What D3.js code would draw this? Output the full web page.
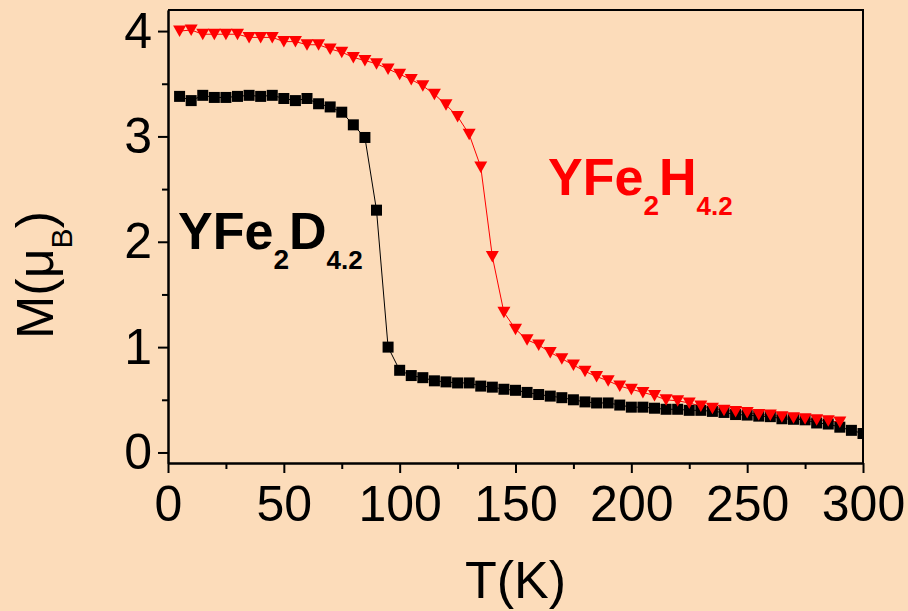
<!DOCTYPE html>
<html>
<head>
<meta charset="utf-8">
<script src="https://cdn.jsdelivr.net/npm/d3@7"></script>
<style>
  html, body { margin: 0; padding: 0; background: #fcdcba; }
  svg { display: block; font-family: "Liberation Sans", Arial, sans-serif; }
  .axis path, .axis line { stroke: #000; stroke-width: 2; }
  .axis text { font-size: 50px; fill: #000; }
</style>
</head>
<body>
<div id="chart"></div>
<script>
/* M(T) curves for YFe2D4.2 and YFe2H4.2 */

// YFe2D4.2 (black squares)
const tempD = [5, 10, 15, 20, 25, 30, 35, 40, 45, 50, 55, 60, 65, 70, 75, 80, 85, 90, 95, 100,
  105, 110, 115, 120, 125, 130, 135, 140, 145, 150, 155, 160, 165, 170, 175, 180, 185, 190, 195, 200,
  205, 210, 215, 220, 225, 230, 235, 240, 245, 250, 255, 260, 265, 270, 275, 280, 285, 290, 295, 300];
const magD = [3.38, 3.34, 3.39, 3.37, 3.37, 3.38, 3.39, 3.38, 3.39, 3.36, 3.34, 3.36, 3.31, 3.28, 3.23, 3.11, 2.99, 2.30, 1.00, 0.78,
  0.73, 0.71, 0.68, 0.67, 0.66, 0.66, 0.63, 0.62, 0.60, 0.59, 0.57, 0.55, 0.535, 0.52, 0.50, 0.48, 0.47, 0.47, 0.45, 0.43,
  0.43, 0.42, 0.41, 0.41, 0.40, 0.40, 0.39, 0.38, 0.36, 0.355, 0.345, 0.34, 0.32, 0.315, 0.31, 0.28, 0.27, 0.24, 0.21, 0.18];

// YFe2H4.2 (red triangles)
const tempH = [5, 10, 15, 20, 25, 30, 35, 40, 45, 50, 55, 60, 65, 70, 75, 80, 85, 90, 95, 100,
  105, 110, 115, 120, 125, 130, 135, 140, 145, 150, 155, 160, 165, 170, 175, 180, 185, 190, 195, 200,
  205, 210, 215, 220, 225, 230, 235, 240, 245, 250, 255, 260, 265, 270, 275, 280, 285, 290];
const magH = [4.00, 4.01, 3.97, 3.97, 3.97, 3.97, 3.94, 3.94, 3.94, 3.90, 3.90, 3.87, 3.87, 3.83, 3.80, 3.75, 3.72, 3.69, 3.64, 3.59,
  3.54, 3.48, 3.40, 3.30, 3.19, 3.02, 2.71, 1.86, 1.33, 1.17, 1.07, 1.02, 0.95, 0.89, 0.83, 0.77, 0.72, 0.68, 0.63, 0.60,
  0.57, 0.54, 0.50, 0.49, 0.47, 0.44, 0.42, 0.40, 0.39, 0.38, 0.36, 0.355, 0.34, 0.33, 0.32, 0.31, 0.30, 0.29];

const xTicks = [0, 50, 100, 150, 200, 250, 300];
const xMinor = [25, 75, 125, 175, 225, 275];
const yTicks = [0, 1, 2, 3, 4];
const yMinor = [0.5, 1.5, 2.5, 3.5];

let width = 908,
    height = 611,
    margin = ({ top: 10, right: 45, bottom: 148, left: 168 });

const svg = d3.select("#chart")
  .append("svg")
  .attr("width", width)
  .attr("height", height);

svg.append("rect")
  .attr("width", width)
  .attr("height", height)
  .attr("fill", "#fcdcba");

let x = d3.scaleLinear()
  .domain([0, 300])
  .range([margin.left, width - margin.right]);

let y = d3.scaleLinear()
  .domain([-0.1, 4.2])
  .range([height - margin.bottom, margin.top]);

svg.append("clipPath")
  .attr("id", "plot-clip")
  .append("rect")
  .attr("x", margin.left)
  .attr("y", margin.top)
  .attr("width", width - margin.left - margin.right)
  .attr("height", height - margin.top - margin.bottom);

// frame (top and right sides)
svg.append("path")
  .attr("d", `M${margin.left},${margin.top}H${width - margin.right}V${height - margin.bottom}`)
  .attr("fill", "none")
  .attr("stroke", "#000")
  .attr("stroke-width", 2);

// minor ticks first, major axes on top
svg.append("g")
  .attr("class", "axis")
  .attr("transform", `translate(0,${height - margin.bottom})`)
  .call(d3.axisBottom(x).tickValues(xMinor).tickSize(6).tickFormat("").tickSizeOuter(0));

svg.append("g")
  .attr("class", "axis")
  .attr("transform", `translate(${margin.left},0)`)
  .call(d3.axisLeft(y).tickValues(yMinor).tickSize(6).tickFormat("").tickSizeOuter(0));

svg.append("g")
  .attr("class", "axis")
  .attr("transform", `translate(0,${height - margin.bottom})`)
  .call(d3.axisBottom(x).tickValues(xTicks).tickSize(10).tickPadding(12).tickSizeOuter(0));

svg.append("g")
  .attr("class", "axis")
  .attr("transform", `translate(${margin.left},0)`)
  .call(d3.axisLeft(y).tickValues(yTicks).tickFormat(d3.format("d")).tickSize(10).tickPadding(6).tickSizeOuter(0));

let line = d3.line()
  .x(d => x(d[0]))
  .y(d => y(d[1]));

let dataD = tempD.map((t, i) => [t, magD[i]]);
let dataH = tempH.map((t, i) => [t, magH[i]]);

let plot = svg.append("g").attr("clip-path", "url(#plot-clip)");

plot.append("path")
  .datum(dataD)
  .attr("fill", "none")
  .attr("stroke", "#000")
  .attr("stroke-width", 1)
  .attr("d", line);

plot.append("path")
  .datum(dataH)
  .attr("fill", "none")
  .attr("stroke", "#ff0000")
  .attr("stroke-width", 1)
  .attr("d", line);

plot.selectAll(".sq")
  .data(dataD)
  .join("rect")
  .attr("class", "sq")
  .attr("x", d => x(d[0]) - 5.5)
  .attr("y", d => y(d[1]) - 5.5)
  .attr("width", 11)
  .attr("height", 11)
  .attr("fill", "#000");

plot.selectAll(".tri")
  .data(dataH)
  .join("path")
  .attr("class", "tri")
  .attr("transform", d => `translate(${x(d[0])},${y(d[1])})`)
  .attr("d", "M-6.5,-5.5L6.5,-5.5L0,6Z")
  .attr("fill", "#ff0000");

// axis titles
svg.append("text")
  .attr("x", (margin.left + width - margin.right) / 2)
  .attr("y", 598)
  .attr("text-anchor", "middle")
  .attr("font-size", 52)
  .text("T(K)");

let yt = svg.append("text")
  .attr("transform", "translate(53,275) rotate(-90)")
  .attr("text-anchor", "middle")
  .attr("font-size", 52);
yt.append("tspan").text("M(\u03bc");
yt.append("tspan").attr("font-size", 30).attr("dy", 19).text("B");
yt.append("tspan").attr("dy", -19).text(")");

// sample labels
function formula(xp, yp, color, el) {
  let t = svg.append("text")
    .attr("x", xp)
    .attr("y", yp)
    .attr("fill", color)
    .attr("font-weight", "bold")
    .attr("font-size", 52);
  t.append("tspan").text("YFe");
  t.append("tspan").attr("font-size", 28).attr("dy", 20).text("2");
  t.append("tspan").attr("dy", -20).text(el);
  t.append("tspan").attr("font-size", 26).attr("dy", 20).text("4.2");
}

formula(178, 249, "#000", "D");
formula(548, 195, "#ff0000", "H");
</script>
</body>
</html>
